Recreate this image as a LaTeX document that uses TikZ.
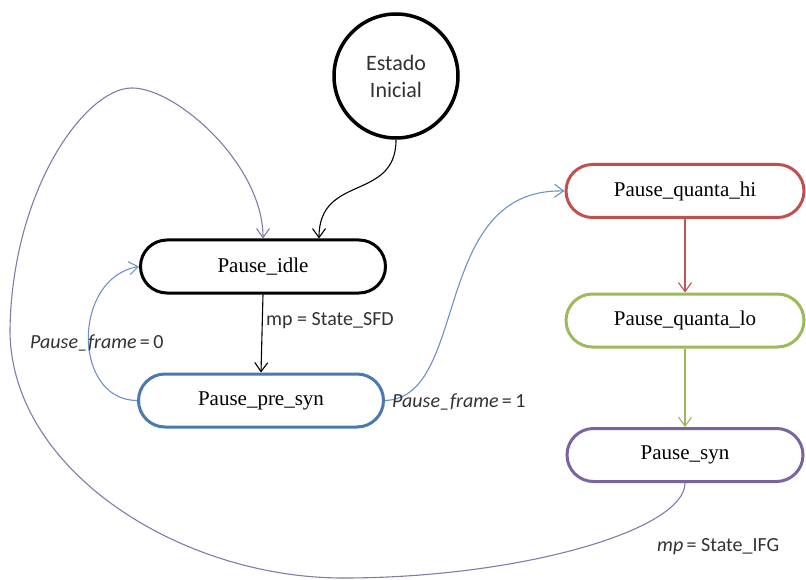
\documentclass[tikz,border=0pt]{standalone}
\usepackage{fontspec}
\setmainfont{Liberation Serif}
\newfontfamily\lblfont{Carlito}
\usetikzlibrary{arrows.meta,shapes.misc}

% border colours of the states
\definecolor{cBlue}{RGB}{74,120,176}
\definecolor{cRed}{RGB}{192,80,77}
\definecolor{cGreen}{RGB}{155,187,89}
\definecolor{cPurple}{RGB}{122,100,158}
% connector colours
\definecolor{aBlue}{RGB}{110,145,195}
\definecolor{aLoop}{RGB}{125,125,168}
\definecolor{aRed}{RGB}{190,85,85}
\definecolor{aGreen}{RGB}{150,185,90}
\definecolor{txtGray}{RGB}{50,50,50}

\begin{document}
\begin{tikzpicture}[x=1pt,y=-1pt,
  state/.style={rounded rectangle, draw, line width=3pt,
    minimum width=245pt, minimum height=53pt, inner sep=0pt,
    font=\fontsize{21}{25}\selectfont},
  trans/.style={-{Straight Barb[length=9pt,width=13pt]}, line width=1.1pt},
  lbl/.style={inner sep=0pt, text=txtGray,
    font=\lblfont\fontsize{20}{24}\selectfont}]
\useasboundingbox (0,0) rectangle (806,580);

% states
\node[circle, draw, line width=3.5pt, minimum size=124pt, align=center,
      text=txtGray, font=\lblfont\fontsize{22}{27}\selectfont]
      (init) at (396,76) {Estado\\Inicial};
\node[state] (idle) at (263,266.5) {Pause\_idle};
\node[state, draw=cBlue] (presyn) at (261,400.5) {Pause\_pre\_syn};
\node[state, draw=cRed, minimum width=238pt] (hi) at (685,191) {Pause\_quanta\_hi};
\node[state, draw=cGreen, minimum width=238pt] (lo) at (685,320.5) {Pause\_quanta\_lo};
\node[state, draw=cPurple, minimum width=236pt] (syn) at (685,455) {Pause\_syn};

% transitions
\draw[trans] (init.south) .. controls +(0,62) and +(0,-65) .. ([xshift=56pt]idle.north);
\draw[trans] (idle.south) -- (presyn.north);
\draw[trans, draw=aBlue] (presyn.west) .. controls (72,400) and (72,278) .. (idle.west);
\draw[trans, draw=aBlue] (presyn.east) .. controls (470,398) and (430,188) .. (hi.west);
\draw[trans, draw=aRed] (hi.south) -- (lo.north);
\draw[trans, draw=aGreen] (lo.south) -- (syn.north);
\draw[trans, draw=aLoop] (syn.south)
  .. controls (685,530) and (520,578) .. (343,578)
  .. controls (180,578) and (10,470) .. (10,330)
  .. controls (12,190) and (85,88) .. (132,88)
  .. controls (177,88) and (263,165) .. (idle.north);

% transition labels
\node[lbl, anchor=base west] (lsfd) at (266,325) {mp = State\_SFD};
\node[lbl, anchor=base west] (lpf0) at (30,348) {{\itshape Pause\_frame}\,=\,0};
\node[lbl, anchor=base west] (lpf1) at (392,407) {{\itshape Pause\_frame}\,=\,1};
\node[lbl, anchor=base west] (lifg) at (657,551) {{\itshape mp}\,= State\_IFG};
\end{tikzpicture}
\end{document}
